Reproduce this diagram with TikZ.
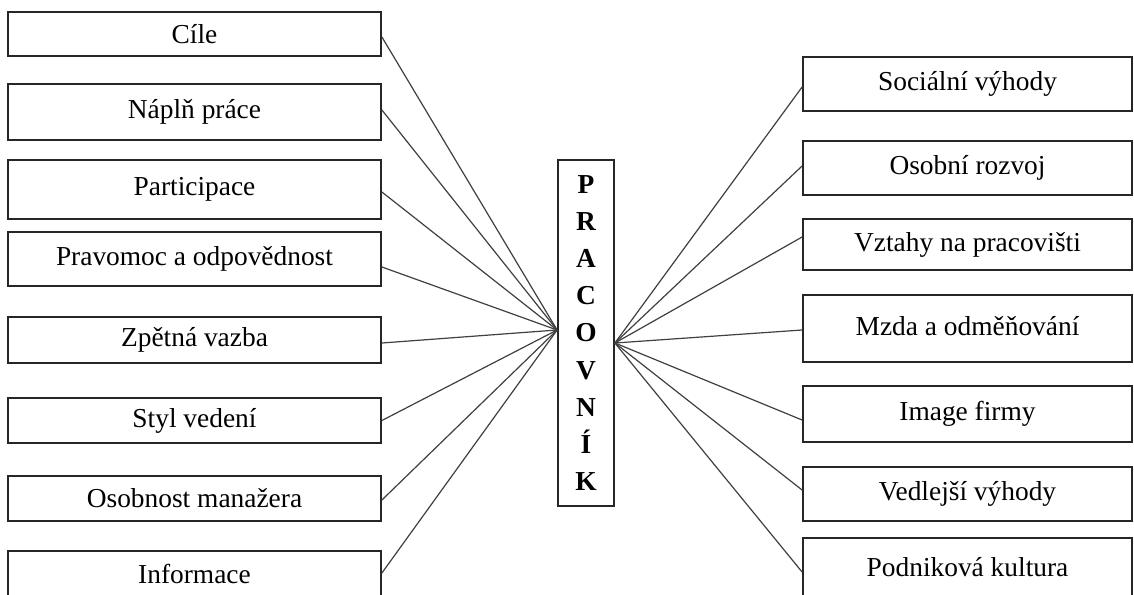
\documentclass[tikz,border=0pt]{standalone}
\usepackage{fontspec}
\setmainfont{Liberation Serif}
\begin{document}
\begin{tikzpicture}[x=1pt,y=-1pt,
  lbox/.style={draw=black!85, line width=1.8pt, inner sep=0pt, minimum width=373pt,
    font=\fontsize{27.4}{30}\selectfont},
  rbox/.style={draw=black!85, line width=1.8pt, inner sep=0pt, minimum width=329pt,
    font=\fontsize{27.4}{30}\selectfont},
  cbox/.style={draw=black!85, line width=1.8pt, inner sep=0pt, minimum width=56pt,
    minimum height=346pt, align=center, font=\fontsize{27.4}{37.1}\selectfont\bfseries},
  link/.style={draw=black!75, line width=1.2pt}]
\useasboundingbox (0,0) rectangle (1134,594);
\clip (0,0) rectangle (1134,594);
\fill[white] (0,0) rectangle (1134,594);

% left boxes
\node[lbox, minimum height=44pt] (L1) at (194.5,34)   {Cíle};
\node[lbox, minimum height=56pt] (L2) at (194.5,112)  {Náplň práce};
\node[lbox, minimum height=59pt] (L3) at (194.5,189.5) {Participace};
\node[lbox, minimum height=54pt] (L4) at (194.5,259)  {Pravomoc a odpovědnost};
\node[lbox, minimum height=46pt] (L5) at (194.5,340)  {Zpětná vazba};
\node[lbox, minimum height=45pt] (L6) at (194.5,420.5) {Styl vedení};
\node[lbox, minimum height=45pt] (L7) at (194.5,498.5) {Osobnost manažera};
\node[lbox, minimum height=46pt] (L8) at (194.5,574)  {Informace};

% right boxes
\node[rbox, minimum height=54pt] (R1) at (967.5,84)    {Sociální výhody};
\node[rbox, minimum height=54pt] (R2) at (967.5,168)   {Osobní rozvoj};
\node[rbox, minimum height=51pt] (R3) at (967.5,244.5) {Vztahy na pracovišti};
\node[rbox, minimum height=67pt] (R4) at (967.5,328.5) {\raisebox{5pt}{Mzda a odměňování}};
\node[rbox, minimum height=56pt] (R5) at (967.5,414)   {Image firmy};
\node[rbox, minimum height=54pt] (R6) at (967.5,494)   {Vedlejší výhody};
\node[rbox, minimum height=59pt] (R7) at (967.5,567.5) {Podniková kultura};

% centre
\node[cbox] (P) at (586,333) {P\\R\\A\\C\\O\\V\\N\\Í\\K};

% connectors
\foreach \n/\d in {L1/-3pt, L2/2pt, L3/-2.5pt, L4/-8pt, L5/-3pt, L6/0pt, L7/-1.5pt, L8/1pt}
  \draw[link] ([yshift=\d]\n.east) -- ([yshift=3pt]P.west);
\foreach \n/\d in {R1/-3pt, R2/2pt, R3/7.5pt, R4/-1.5pt, R5/-6pt, R6/4pt, R7/-4.5pt}
  \draw[link] ([yshift=\d]\n.west) -- ([yshift=-10pt]P.east);
\end{tikzpicture}
\end{document}
